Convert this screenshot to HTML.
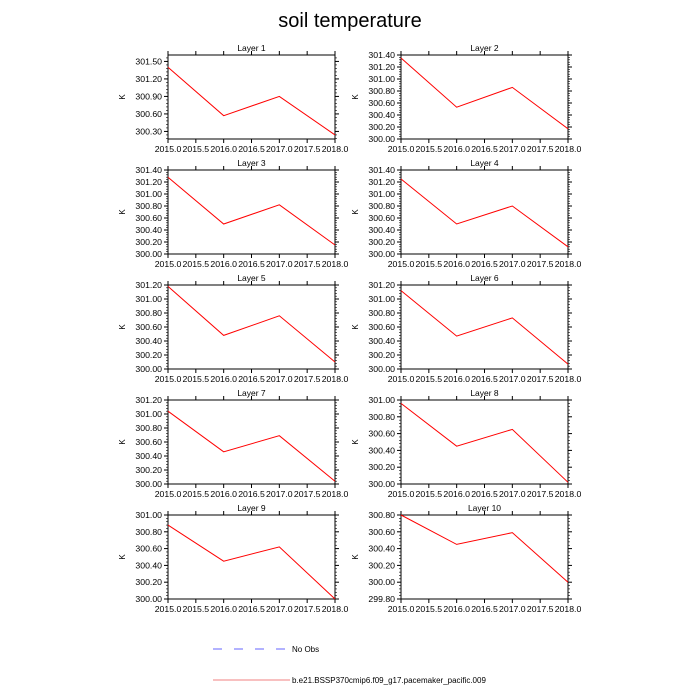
<!DOCTYPE html>
<html><head><meta charset="utf-8"><style>
body{margin:0;background:#fff}
svg{display:block;font-family:"Liberation Sans",sans-serif}
</style></head><body>
<svg id="c" width="700" height="700" viewBox="0 0 700 700">
<text x="350" y="27" text-anchor="middle" font-size="20">soil temperature</text>
<g>
<line x1="213" y1="649" x2="286" y2="649" stroke="#6666ff" stroke-dasharray="9,12"/>
<text x="292" y="652" font-size="8">No Obs</text>
<line x1="213" y1="680" x2="290" y2="680" stroke="#f08080"/>
<text x="292" y="683" font-size="8">b.e21.BSSP370cmip6.f09_g17.pacemaker_pacific.009</text>
</g>
</svg>
<script>
const years = [2015, 2016, 2017, 2018];
const layerNames = ["Layer 1","Layer 2","Layer 3","Layer 4","Layer 5","Layer 6","Layer 7","Layer 8","Layer 9","Layer 10"];
const layer1 = [301.40, 300.57, 300.90, 300.24];
const layer2 = [301.35, 300.53, 300.86, 300.17];
const layer3 = [301.28, 300.50, 300.82, 300.15];
const layer4 = [301.25, 300.50, 300.80, 300.12];
const layer5 = [301.18, 300.48, 300.76, 300.10];
const layer6 = [301.12, 300.47, 300.73, 300.07];
const layer7 = [301.04, 300.46, 300.69, 300.04];
const layer8 = [300.96, 300.45, 300.65, 300.02];
const layer9 = [300.88, 300.45, 300.62, 300.00];
const layer10 = [300.80, 300.45, 300.59, 300.00];
const yMins = [300.17, 300.00, 300.00, 300.00, 300.00, 300.00, 300.00, 300.00, 300.00, 299.80];
const yMaxs = [301.61, 301.40, 301.40, 301.40, 301.20, 301.20, 301.20, 301.00, 301.00, 300.80];
const yTickStarts = [300.30, 300.00, 300.00, 300.00, 300.00, 300.00, 300.00, 300.00, 300.00, 299.80];
const yTickSteps = [0.3, 0.2, 0.2, 0.2, 0.2, 0.2, 0.2, 0.2, 0.2, 0.2];
const xTicks = [2015.0, 2015.5, 2016.0, 2016.5, 2017.0, 2017.5, 2018.0];
const series = [layer1,layer2,layer3,layer4,layer5,layer6,layer7,layer8,layer9,layer10];

const NS = "http://www.w3.org/2000/svg";
const svg = document.getElementById('c');
function mk(tag, attrs, parent){const e=document.createElementNS(NS,tag);for(const k in attrs)e.setAttribute(k,attrs[k]);parent.appendChild(e);return e;}
const W = 167, H = 84;
series.forEach((vals, i) => {
  const col = i % 2, row = Math.floor(i / 2);
  const x0 = col ? 401 : 168, y0 = 55 + row * 115;
  const g = mk('g', {}, svg);
  
  
  const xs = v => x0 + (v - 2015) / 3 * W;
  const ys = v => y0 + H - (v - yMins[i]) / (yMaxs[i] - yMins[i]) * H;
  const t = mk('text', {x: x0 + W / 2, y: y0 - 4, 'text-anchor': 'middle', 'font-size': 8.5}, g);
  t.textContent = layerNames[i];
  
  
  const yl = mk('text', {x: x0 - 43, y: y0 + H / 2, 'text-anchor': 'middle', 'font-size': 8, transform: `rotate(-90 ${x0 - 43} ${y0 + H / 2})`}, g);
  yl.textContent = 'K';
  
  
  xTicks.forEach((v) => {
    const x = xs(v);
    mk('line', {x1: x, y1: y0 + H, x2: x, y2: y0 + H + 4, stroke: '#000', 'stroke-width': 1}, g);
    mk('line', {x1: x, y1: y0, x2: x, y2: y0 - 4, stroke: '#000', 'stroke-width': 1}, g);
    const lb = mk('text', {x: x, y: y0 + H + 13, 'text-anchor': 'middle', 'font-size': 8.7}, g);
    lb.textContent = v.toFixed(1);
    
    
  });
  const st = yTickSteps[i];
  for (let v = yTickStarts[i]; v <= yMaxs[i] + 1e-6; v += st) {
    const y = ys(v);
    mk('line', {x1: x0 - 4, y1: y, x2: x0, y2: y, stroke: '#000', 'stroke-width': 1}, g);
    mk('line', {x1: x0 + W, y1: y, x2: x0 + W + 4, y2: y, stroke: '#000', 'stroke-width': 1}, g);
    const lb = mk('text', {x: x0 - 6, y: y + 3, 'text-anchor': 'end', 'font-size': 8.7}, g);
    lb.textContent = v.toFixed(2);
    
    
  }
  for (let v = yTickStarts[i] - st; v <= yMaxs[i] + 1e-6; v += st / 5) {
    if (v < yMins[i] - 1e-6) continue;
    const y = ys(v);
    mk('line', {x1: x0 - 2, y1: y, x2: x0, y2: y, stroke: '#000', 'stroke-width': 0.6}, g);
    mk('line', {x1: x0 + W, y1: y, x2: x0 + W + 2, y2: y, stroke: '#000', 'stroke-width': 0.6}, g);
  }
  const fr = mk('rect', {x: x0, y: y0, width: W, height: H, fill: 'none', stroke: '#000', 'stroke-width': 1}, g);
  
  
  const pl = mk('polyline', {points: vals.map((v, k) => xs(years[k]) + ',' + ys(v)).join(' '), fill: 'none', stroke: '#ff0000', 'stroke-width': 1}, g);
  
  
});
</script>
</body></html>
